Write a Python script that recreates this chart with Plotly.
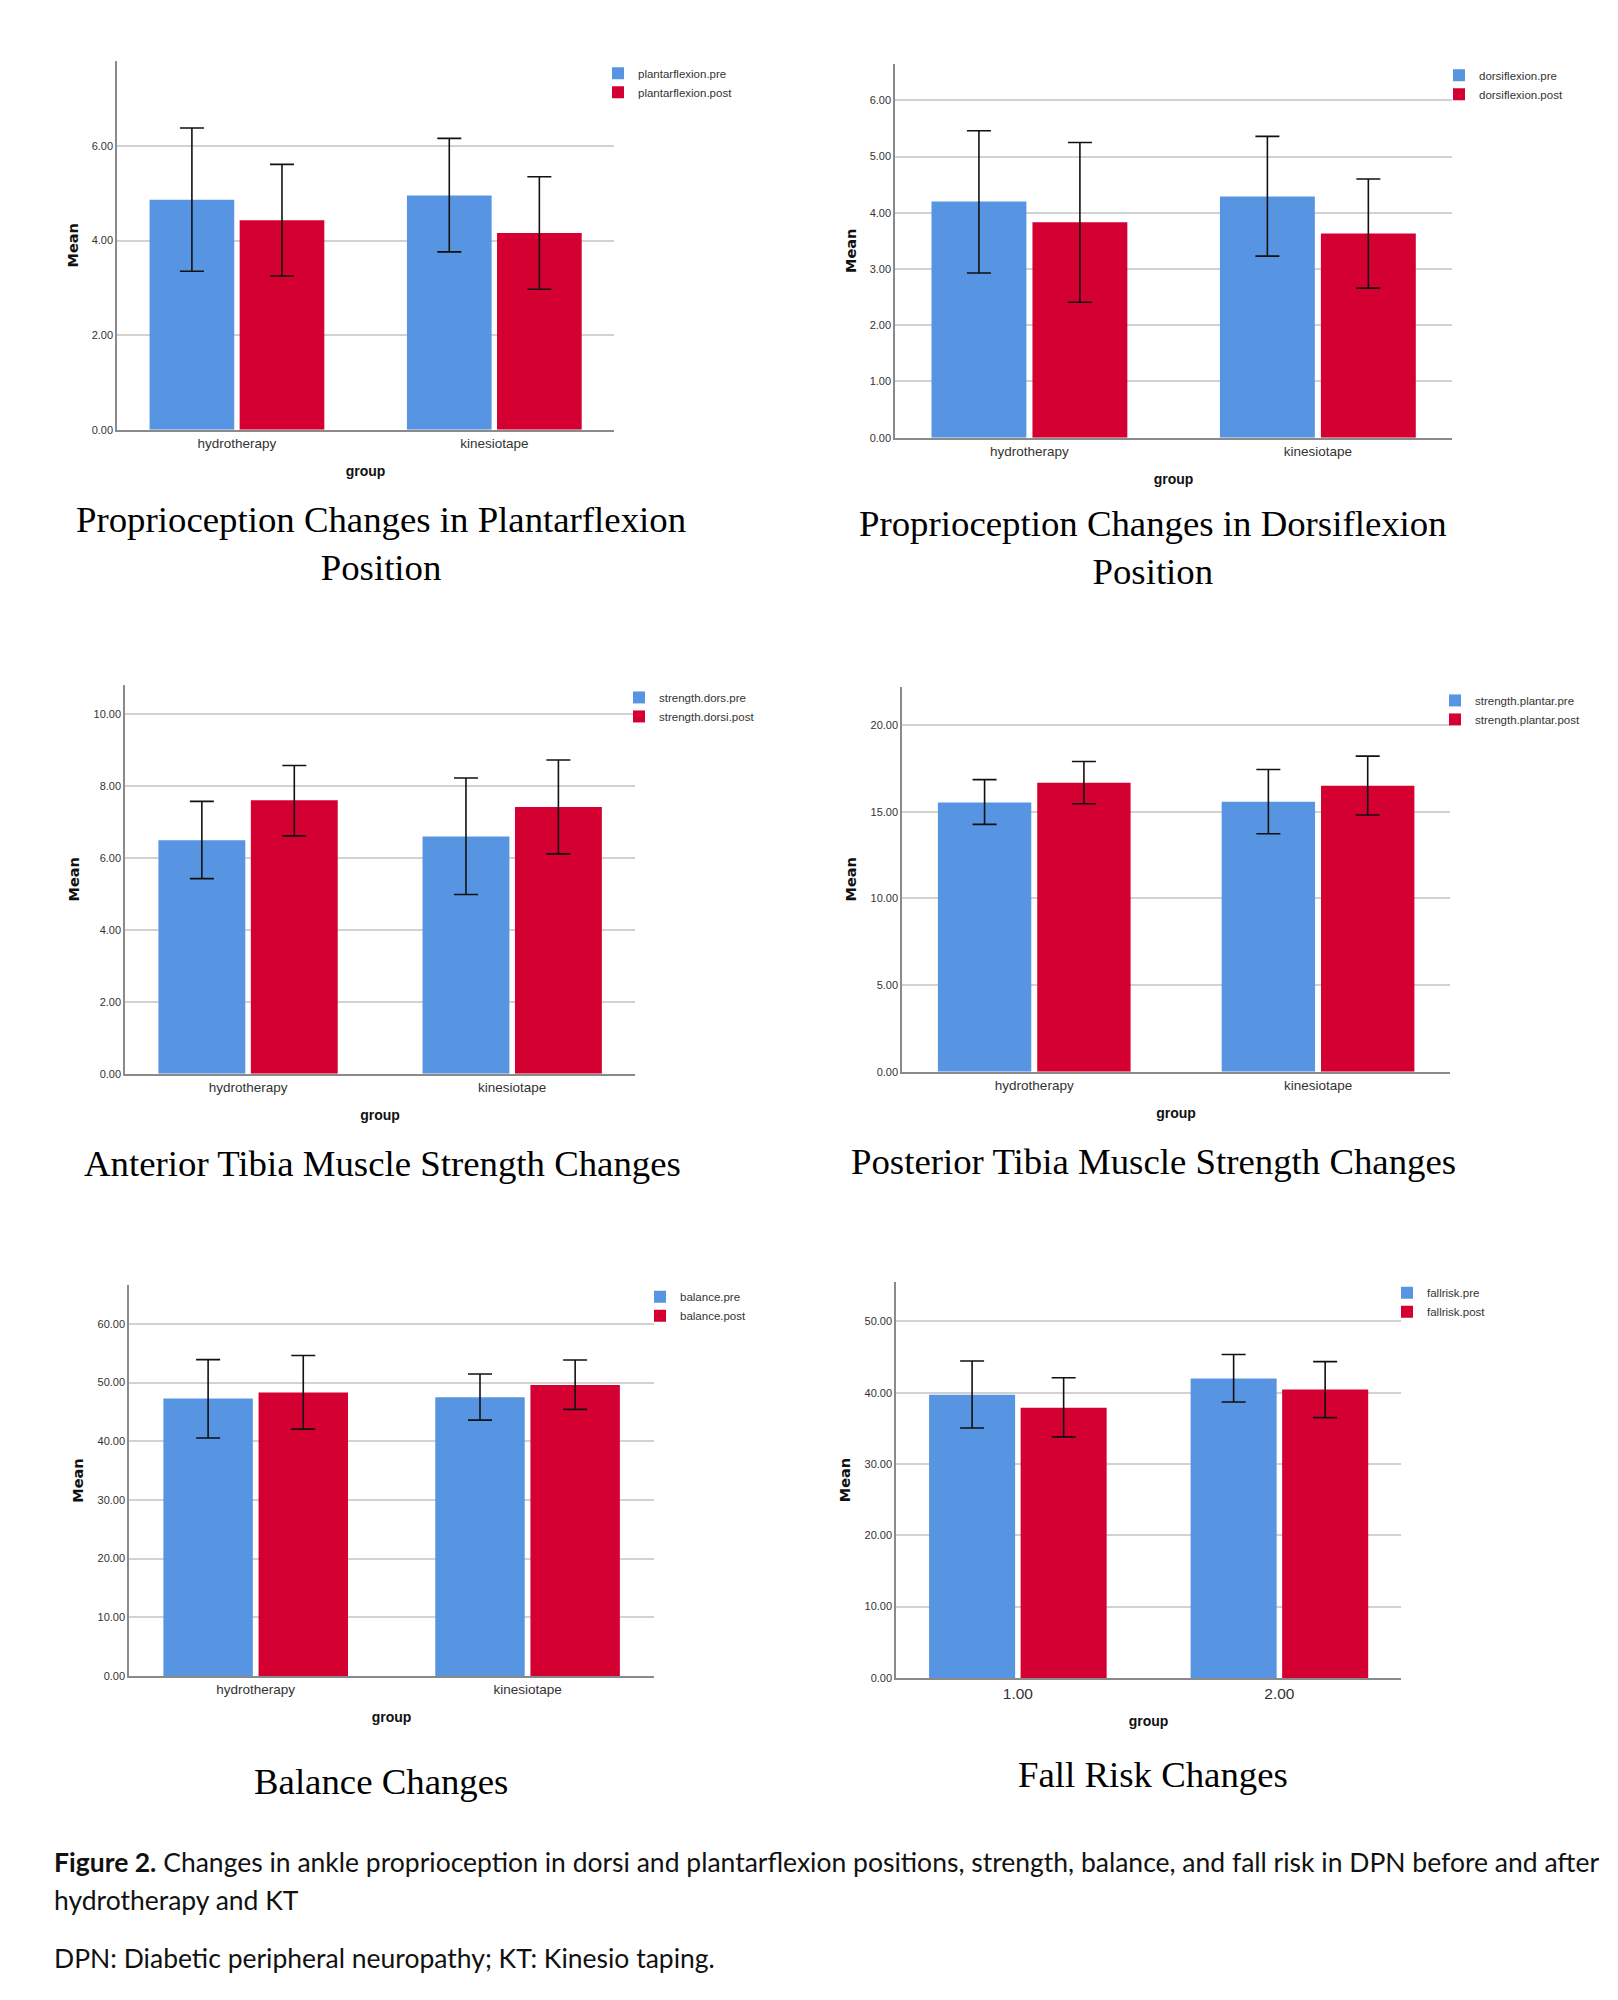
import plotly.graph_objects as go

W, H = 1618, 2000
BLUE = "#5795e3"
RED = "#d40032"
SANS = "Liberation Sans, Arial, sans-serif"

# ---------------- data (means and 95% CI bounds) ----------------
groups_named = ["hydrotherapy", "kinesiotape"]
groups_coded = ["1.00", "2.00"]

plantar_pre_mean = [4.86, 4.95]
plantar_pre_low = [3.35, 3.76]
plantar_pre_high = [6.38, 6.16]
plantar_post_mean = [4.43, 4.16]
plantar_post_low = [3.25, 2.97]
plantar_post_high = [5.61, 5.35]

dorsi_pre_mean = [4.20, 4.29]
dorsi_pre_low = [2.93, 3.23]
dorsi_pre_high = [5.46, 5.36]
dorsi_post_mean = [3.83, 3.63]
dorsi_post_low = [2.41, 2.66]
dorsi_post_high = [5.25, 4.60]

sdors_pre_mean = [6.50, 6.60]
sdors_pre_low = [5.43, 4.99]
sdors_pre_high = [7.58, 8.23]
sdors_post_mean = [7.61, 7.42]
sdors_post_low = [6.62, 6.12]
sdors_post_high = [8.58, 8.73]

splant_pre_mean = [15.54, 15.58]
splant_pre_low = [14.27, 13.73]
splant_pre_high = [16.85, 17.44]
splant_post_mean = [16.67, 16.50]
splant_post_low = [15.46, 14.81]
splant_post_high = [17.90, 18.21]

balance_pre_mean = [47.26, 47.50]
balance_pre_low = [40.55, 43.60]
balance_pre_high = [53.90, 51.46]
balance_post_mean = [48.30, 49.57]
balance_post_low = [42.07, 45.43]
balance_post_high = [54.60, 53.85]

fall_pre_mean = [39.70, 42.00]
fall_pre_low = [35.05, 38.70]
fall_pre_high = [44.45, 45.35]
fall_post_mean = [37.90, 40.45]
fall_post_low = [33.80, 36.50]
fall_post_high = [42.10, 44.35]

series_names = [
    ("plantarflexion.pre", "plantarflexion.post"),
    ("dorsiflexion.pre", "dorsiflexion.post"),
    ("strength.dors.pre", "strength.dorsi.post"),
    ("strength.plantar.pre", "strength.plantar.post"),
    ("balance.pre", "balance.post"),
    ("fallrisk.pre", "fallrisk.post"),
]
panel_titles = [
    "Proprioception Changes in Plantarflexion<br>Position",
    "Proprioception Changes in Dorsiflexion<br>Position",
    "Anterior Tibia Muscle Strength Changes",
    "Posterior Tibia Muscle Strength Changes",
    "Balance Changes",
    "Fall Risk Changes",
]

# ---------------- layout of panels (pixels) ----------------
panels = [
    dict(cats=groups_named, pre=(plantar_pre_mean, plantar_pre_low, plantar_pre_high),
         post=(plantar_post_mean, plantar_post_low, plantar_post_high),
         dtick=2, ymax=7.8, box=(117, 61, 614, 431), tpos=(381, 545), leg=(618, 72), xfs=13.5),
    dict(cats=groups_named, pre=(dorsi_pre_mean, dorsi_pre_low, dorsi_pre_high),
         post=(dorsi_post_mean, dorsi_post_low, dorsi_post_high),
         dtick=1, ymax=6.65, box=(895, 64, 1452, 439), tpos=(1153, 549), leg=(1459, 74), xfs=13.5),
    dict(cats=groups_named, pre=(sdors_pre_mean, sdors_pre_low, sdors_pre_high),
         post=(sdors_post_mean, sdors_post_low, sdors_post_high),
         dtick=2, ymax=10.82, box=(125, 687, 635, 1077), tpos=(382, 1167), leg=(639, 698), xfs=13.5),
    dict(cats=groups_named, pre=(splant_pre_mean, splant_pre_low, splant_pre_high),
         post=(splant_post_mean, splant_post_low, splant_post_high),
         dtick=5, ymax=22.2, box=(902, 689, 1450, 1075), tpos=(1153, 1165), leg=(1455, 701), xfs=13.5),
    dict(cats=groups_named, pre=(balance_pre_mean, balance_pre_low, balance_pre_high),
         post=(balance_post_mean, balance_post_low, balance_post_high),
         dtick=10, ymax=66.6, box=(129, 1289, 654, 1681), tpos=(381, 1787), leg=(660, 1299), xfs=13.5),
    dict(cats=groups_coded, pre=(fall_pre_mean, fall_pre_low, fall_pre_high),
         post=(fall_post_mean, fall_post_low, fall_post_high),
         dtick=10, ymax=55.5, box=(896, 1286, 1401, 1683), tpos=(1153, 1780), leg=(1407, 1295), xfs=15.5),
]

fig = go.Figure()
layout = dict(
    width=W, height=H, margin=dict(l=0, r=0, t=0, b=0),
    paper_bgcolor="white", plot_bgcolor="white",
    barmode="group", bargap=0.30, bargroupgap=0.06,
    font=dict(family=SANS, color="#222"),
    annotations=[],
)


def px(x):
    return x / W


def py(y):
    return 1 - y / H


for i, p in enumerate(panels, start=1):
    sfx = "" if i == 1 else str(i)
    legname = "legend" if i == 1 else f"legend{i}"
    names = series_names[i - 1]
    for (mean, lo, hi), name, color in zip((p["pre"], p["post"]), names, (BLUE, RED)):
        fig.add_trace(go.Bar(
            x=p["cats"], y=mean, name=name, marker=dict(color=color, line=dict(width=0)),
            error_y=dict(type="data", symmetric=False,
                         array=[h - m for h, m in zip(hi, mean)],
                         arrayminus=[m - l for m, l in zip(mean, lo)],
                         color="#111", thickness=1.6, width=12),
            xaxis="x" + sfx, yaxis="y" + sfx, legend=legname,
        ))
    x0, y0, x1, y1 = p["box"]
    layout["xaxis" + sfx] = dict(
        domain=[px(x0), px(x1)], anchor="y" + sfx, type="category",
        range=[-0.466, 1.465], showgrid=False, zeroline=False,
        showline=True, linecolor="#8a8a8a", linewidth=2, ticks="",
        tickfont=dict(family=SANS, size=p["xfs"], color="#333"),
        title=dict(text="<b>group</b>", font=dict(family=SANS, size=14, color="#111"), standoff=16),
    )
    layout["yaxis" + sfx] = dict(
        domain=[py(y1), py(y0)], anchor="x" + sfx, range=[0, p["ymax"]],
        tick0=0, dtick=p["dtick"], tickformat=".2f",
        showgrid=True, gridcolor="#d2d2d2", gridwidth=2, zeroline=False,
        showline=True, linecolor="#8a8a8a", linewidth=1.5, ticks="",
        tickfont=dict(family=SANS, size=11, color="#333"),
        title=dict(text="<b>Mean</b>", font=dict(family="DejaVu Sans, Verdana, sans-serif", size=14.5, color="#111"), standoff=10),
    )
    lx, ly = p["leg"]
    layout[legname] = dict(
        x=px(lx - 20), y=py(ly - 13), xanchor="left", yanchor="top",
        bgcolor="rgba(0,0,0,0)", borderwidth=0, itemwidth=30,
        font=dict(family=SANS, size=11.5, color="#333"), tracegroupgap=0,
        itemclick=False, itemdoubleclick=False,
    )
    layout["annotations"].append(dict(
        text=panel_titles[i - 1], x=px(p["tpos"][0]), y=py(p["tpos"][1]),
        xref="paper", yref="paper", xanchor="center", yanchor="middle", showarrow=False,
        font=dict(family="Liberation Serif, Times New Roman, serif", size=36.8, color="#000"),
    ))

caption_lines = [
    ("<b>Figure 2.</b> Changes in ankle proprioception in dorsi and plantarflexion positions, strength, balance, and fall risk in DPN before and after", 1868),
    ("hydrotherapy and KT", 1906),
    ("DPN: Diabetic peripheral neuropathy; KT: Kinesio taping.", 1964),
]
for text, yy in caption_lines:
    layout["annotations"].append(dict(
        text=text, x=px(52), y=py(yy), xref="paper", yref="paper",
        xanchor="left", yanchor="middle", showarrow=False,
        font=dict(family="Lato, Open Sans, sans-serif", size=26.5, color="#111"),
    ))

fig.update_layout(**layout)
fig.write_html("out.html", config={"displayModeBar": False},
               post_script="document.body.style.margin='0';")
